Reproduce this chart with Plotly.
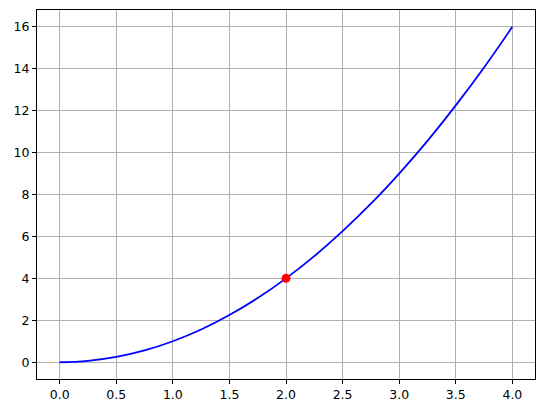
import plotly.graph_objects as go

# values
x_vals = [0.0, 0.125, 0.25, 0.5, 0.75, 1.0, 1.25, 1.5, 1.75, 2.0, 2.25, 2.5, 2.75, 3.0, 3.25, 3.5, 3.75, 4.0]
y_vals = [0.0, 0.016, 0.06, 0.25, 0.56, 1.0, 1.56, 2.25, 3.06, 4.0, 5.06, 6.25, 7.56, 9.0, 10.56, 12.25, 14.06, 16.0]
point_x = [2.0]
point_y = [4.0]
x_ticks = [0.0, 0.5, 1.0, 1.5, 2.0, 2.5, 3.0, 3.5, 4.0]
y_ticks = [0, 2, 4, 6, 8, 10, 12, 14, 16]

fig = go.Figure()
fig.add_trace(go.Scatter(x=x_vals, y=y_vals, mode="lines",
                         line=dict(color="blue", width=1.8, shape="spline"),
                         showlegend=False))
fig.add_trace(go.Scatter(x=point_x, y=point_y, mode="markers",
                         marker=dict(color="red", size=9),
                         showlegend=False))

axis_common = dict(showline=True, linecolor="black", linewidth=1, mirror=True,
                   ticks="outside", ticklen=4, tickwidth=1, tickcolor="black",
                   showgrid=True, gridcolor="#b0b0b0", gridwidth=1,
                   zeroline=False,
                   tickfont=dict(family="DejaVu Sans", size=12.5, color="black"))

fig.update_xaxes(range=[-0.2, 4.2], tickvals=x_ticks,
                 ticktext=[f"{v:.1f}" for v in x_ticks], **axis_common)
fig.update_yaxes(range=[-0.8, 16.8], tickvals=y_ticks,
                 ticktext=[str(v) for v in y_ticks], **axis_common)

fig.update_layout(width=543, height=413,
                  margin=dict(l=37, r=8, t=10, b=34),
                  paper_bgcolor="white", plot_bgcolor="white")

fig.write_html("out.html", config={"displayModeBar": False},
               post_script="document.body.style.margin='0';document.body.style.overflow='hidden';")
